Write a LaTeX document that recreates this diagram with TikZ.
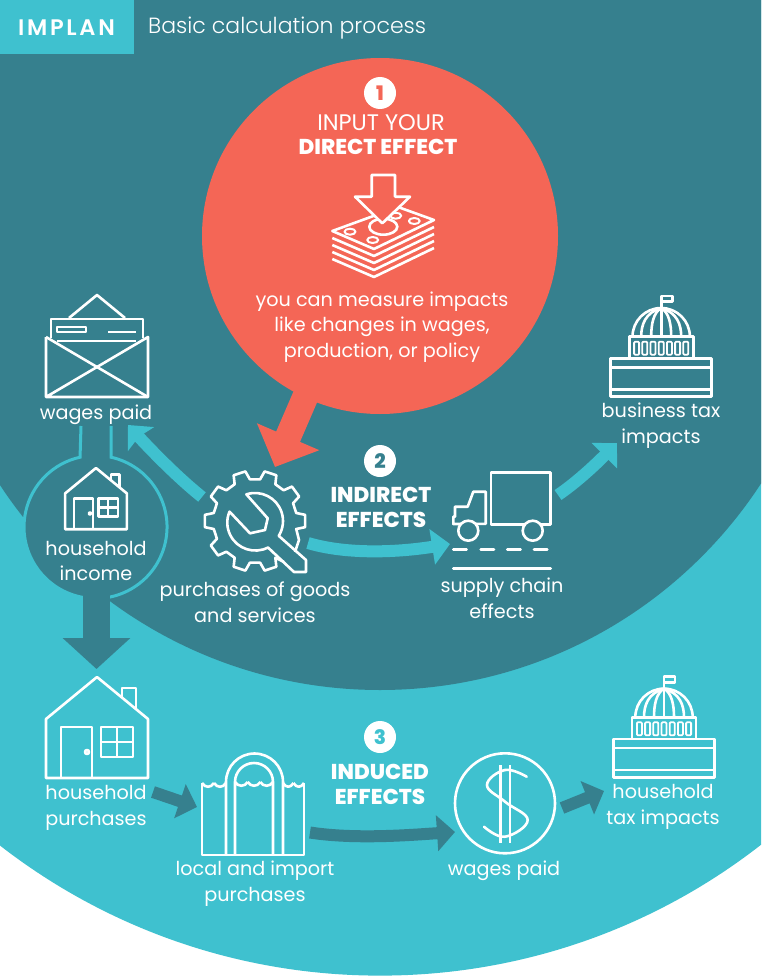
\documentclass[tikz,border=0pt]{standalone}
\usepackage{fontspec}
\setmainfont{Poppins}
\newfontfamily\thinfont{Poppins Light}
\newfontfamily\gordafont{Poppins ExtraBold}
\newfontfamily\marcafont[LetterSpace=12]{Poppins SemiBold}
\usetikzlibrary{arrows.meta}
\definecolor{fondo}{HTML}{36808E}
\definecolor{claro}{HTML}{3FC1CF}
\definecolor{coral}{HTML}{F46656}
\tikzset{
  icono/.style={draw=white,line width=2.6pt,line join=round},
  lbl/.style={white,align=center,inner sep=0pt,font=\fontsize{19.2}{25.8}\selectfont},
  fuerte/.style={white,align=center,inner sep=0pt,font=\fontsize{21.5}{25}\selectfont\gordafont},
  numero/.style={circle,fill=white,minimum size=32pt,inner sep=0pt,font=\fontsize{20}{20}\selectfont\gordafont},
  flecha/.style={line width=12pt,-{Triangle[length=18pt,width=35pt]}},
  capitol/.pic={
    \draw[icono] (-50.5,-38.4) rectangle (50.5,0);
    \draw[icono] (-50.5,-29.4) -- (50.5,-29.4) (-50.5,-7.4) -- (50.5,-7.4);
    \draw[icono] (-32,-38.4) rectangle (32,-60);
    \foreach \col in {-3,...,3}
    \draw[icono,line width=1.8pt,rounded corners=1pt] (\col*8.2-2.5,-55) rectangle (\col*8.2+2.5,-42);
    \draw[icono] (-28.7,-60) arc (180:360:28.7);
    \draw[icono] (0,-88.7) -- (0,-60);
    \foreach \rib in {-20,-10,10,20}
    \draw[icono] (0,-88.7) .. controls (\rib*.8,-84) and (\rib,-72) .. (\rib,-60);
    \draw[icono] (0,-88.7) -- (0,-100.7) -- (11,-100.7) -- (11,-95) -- (0,-95);
  },
  casa/.pic={
    \draw[icono] (-51,101) -- (-51,42) -- (0,0) -- (51,42) -- (51,101) -- cycle;
    \draw[icono] (25,20) -- (25,11) -- (39,11) -- (39,32);
    \draw[icono] (-36,101) -- (-36,50) -- (-5,50) -- (-5,101);
    \draw[icono] (-10,75) circle (2);
    \draw[icono] (4,50) rectangle (36,80);
    \draw[icono] (20,50) -- (20,80) (4,65) -- (36,65);
  }
}
\begin{document}
\begin{tikzpicture}[x=1pt,y=-1pt]
\useasboundingbox (0,0) rectangle (761,979);
\fill[white] (0,0) rectangle (761,979);
\begin{scope}
\clip (0,0) rectangle (761,979);
\fill[claro] (380,355.6) circle (620);
\fill[fondo] (380,235.3) circle (454.7);
\fill[coral] (380,236) circle (178);
\end{scope}
%
% cabecera
\fill[claro] (0,0) rectangle (134,54);
\node[white,font=\fontsize{22.5}{22.5}\selectfont\marcafont,inner sep=0pt] (marca) at (66.5,28) {IMPLAN};
\node[white,anchor=west,inner sep=0pt,font=\fontsize{22}{22}\selectfont\thinfont] (titulo) at (148,28.5) {Basic calculation process};
%
% paso 1
\node[numero,text=coral] (uno) at (380,93) {1};
\node[lbl,font=\fontsize{22.5}{25}\selectfont] (entrada) at (381,123) {INPUT YOUR};
\node[fuerte] (directo) at (378,146.5) {DIRECT EFFECT};
\node[lbl] (medida) at (382,327) {you can measure impacts\\like changes in wages,\\production, or policy};
\foreach \capa in {7,14,21,28}
\draw[icono] (332.3,231+\capa) -- (374,249+\capa) -- (434,220+\capa);
\draw[icono] (332.3,231) -- (398,207) -- (434,220) -- (374,249) -- cycle;
\draw[icono] (383.3,226.7) ellipse (14 and 8);
\draw[icono,line width=2pt] (350,231.7) ellipse (5.5 and 3);
\draw[icono,line width=2pt] (372.7,240) ellipse (5.5 and 3);
\draw[icono,line width=2pt] (414.3,221) ellipse (5.5 and 3);
\draw[icono,line width=2pt] (395.7,215.7) ellipse (5.5 and 3);
\draw[icono,fill=coral] (371.7,175) -- (395,175) -- (395,196.7) -- (410,196.7) -- (382.3,223.3) -- (355,196.7) -- (371.7,196.7) -- cycle;
%
% sobre
\draw[icono] (69,318) -- (97,295) -- (125,318);
\draw[icono] (51,338) -- (51,319) -- (143,319) -- (143,338);
\draw[icono] (57,327) rectangle (86,332);
\draw[icono] (108,332) -- (136,332) (57,341) -- (136,341);
\draw[icono] (46,337) -- (46,397) -- (148,397) -- (148,337) -- (46,397);
\draw[icono] (46,337) -- (148,397);
\node[lbl] (salarios) at (96,415) {wages paid};
%
% ingreso del hogar
\fill[fondo] (96.5,527) circle (71.5);
\draw[claro,line width=3pt] (111,426) -- (111,457.2) arc (-77.5:257.5:71.5) -- (81,426);
\coordinate (ingresoS) at (96.5,585);
\coordinate (hogarN) at (96.5,669);
\draw[fondo,line width=27pt,-{Triangle[length=31pt,width=66pt]}] (ingresoS) -- (hogarN);
\pic[scale=.606] at (96,468) {casa};
\node[lbl] (ingreso) at (96,561) {household\\income};
%
% engranaje
\begin{scope}[shift={(255,521)}]
\draw[icono] (284-255,562-521) -- (61:42)
\foreach \diente in {72,108,144,180,216,252,288,324,360}
{ -- (\diente-11:42) -- (\diente-7:50.5) -- (\diente+7:50.5) -- (\diente+11:42) }
-- (299-255,540-521) -- (295-255,552-521);
\draw[icono] (252:28) arc (252:392:28) -- (51,39) -- (51,51) -- (39,51) -- (13,26.5)
arc (63:203:28) -- (-5,12.3) -- (10,9) -- (12.7,-2.7) -- cycle;
\end{scope}
\node[lbl] (compras) at (255,602) {purchases of goods\\and services};
%
% paso 2
\node[numero,text=fondo] (dos) at (380,461) {2};
\node[fuerte] (indirecto) at (381,507) {INDIRECT\\EFFECTS};
%
% camion
\draw[icono] (491,472.3) rectangle (550.7,524.3);
\draw[icono] (485.7,523.8) -- (485.7,491.7) -- (473.3,491.7) -- (467.7,506.7) -- (455,506.7) -- (455,516.7) -- (453.3,516.7) -- (453.3,524) -- cycle;
\draw[icono,fill=fondo] (468.3,530.7) circle (10);
\draw[icono,fill=fondo] (532.7,530.7) circle (10);
\foreach \raya in {453.3,480.7,507.3,534}
\draw[icono,line cap=round] (\raya,549.3) -- (\raya+13.3,549.3);
\draw[icono,line cap=round] (453.3,568.7) -- (550.7,568.7);
\node[lbl] (cadena) at (502,598) {supply chain\\effects};
%
% impuestos
\pic at (661.2,396.7) {capitol};
\node[lbl] (empresa) at (661,426) {business tax\\impacts};
%
% compras del hogar
\pic at (97,677) {casa};
\node[lbl] (hogar) at (96,807.5) {household\\purchases};
%
% tienda
\draw[icono] (202,783) -- (202,855) -- (304,855) -- (304,783);
\draw[icono] (226,855) -- (226,782) arc (180:360:28.5) -- (283,855);
\draw[icono] (235,855) -- (235,782) arc (180:360:19) -- (273,855);
\foreach \ola in {202,214}
\draw[icono] (\ola,783) .. controls +(3,5) and +(-3,5) .. +(12,0);
\foreach \ola in {283,293.5}
\draw[icono] (\ola,783) .. controls +(3,5) and +(-3,5) .. +(10.5,0);
\foreach \ola in {235,247.7,260.3}
\draw[icono] (\ola,782) .. controls +(3,5) and +(-3,5) .. +(12.7,0);
\node[lbl] (tienda) at (255,883.5) {local and import\\purchases};
%
% paso 3
\node[numero,text=claro] (tres) at (380,737) {3};
\node[fuerte] (inducido) at (380,784) {INDUCED\\EFFECTS};
%
% salarios
\draw[icono] (505,803.3) circle (50);
\draw[icono] (500.7,765) -- (500.7,842.7) (510,765) -- (510,842.7);
\draw[icono,line cap=round] plot[smooth,tension=.7] coordinates {(526.7,776.7) (505,770) (487,785) (505,801.7) (527.7,820) (505,836.7) (484,826.7)};
\node[lbl] (pago) at (504,871) {wages paid};
%
% impuestos del hogar
\pic at (664,777.3) {capitol};
\node[lbl] (tributo) at (663,806.5) {household\\tax impacts};
%
% flechas
\coordinate (circuloS) at (310,386);
\coordinate (engranajeN) at (275,467);
\draw[coral,line width=26pt,-{Triangle[length=33pt,width=66pt]}] (circuloS) -- (engranajeN);
\coordinate (engranajeO) at (202,497);
\coordinate (sobreS) at (128,425);
\draw[claro,line width=12pt,-{Stealth[length=19pt,width=35pt,inset=3pt]}] (engranajeO) .. controls +(-25,-20) and +(22,24) .. (sobreS);
\coordinate (engranajeE) at (308,543);
\coordinate (camionO) at (450,544);
\draw[claro,flecha] (engranajeE) .. controls +(40,12) and +(-50,8) .. (camionO);
\coordinate (camionE) at (558,495);
\coordinate (capitolS) at (617,443);
\draw[claro,flecha] (camionE) .. controls +(22,-15) and +(-16,16) .. (capitolS);
\coordinate (hogarE) at (153,792);
\coordinate (tiendaO) at (197,807);
\draw[fondo,flecha] (hogarE) -- (tiendaO);
\coordinate (tiendaE) at (310,832.5);
\coordinate (dolarO) at (455,832);
\draw[fondo,flecha] (tiendaE) .. controls +(45,7) and +(-45,3) .. (dolarO);
\coordinate (dolarE) at (562,808);
\coordinate (tributoO) at (604,791);
\draw[fondo,flecha] (dolarE) -- (tributoO);
\end{tikzpicture}
\end{document}
